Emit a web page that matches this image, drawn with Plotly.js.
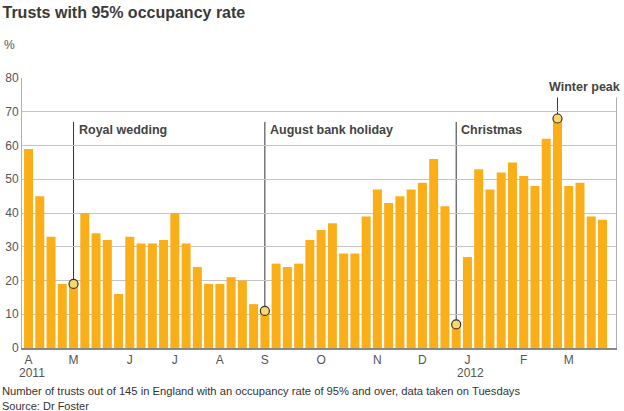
<!DOCTYPE html>
<html>
<head>
<meta charset="utf-8">
<script src="https://cdn.plot.ly/plotly-3.0.1.min.js"></script>
<style>
html,body{margin:0;padding:0;background:#fff;}
#chart{width:624px;height:411px;}
</style>
</head>
<body>
<div id="chart"></div>
<script>
// Weekly values (Tuesdays), April 2011 - March 2012
const values = [59,45,33,19,19,40,34,32,16,33,31,31,32,40,31,24,19,19,21,20,13,11,25,24,25,32,35,37,28,28,39,47,43,45,47,49,56,42,7,27,53,47,52,55,51,48,62,68,48,49,39,38];
const weekIndex = values.map((v, i) => i);

// Month tick labels
const tickPositions = [0,4,9,13,17,21,26,31,35,39,44,48];
const tickLabels = ['A','M','J','J','A','S','O','N','D','J','F','M'];

// Year labels
const yearLabels = ['2011','2012'];
const yearPositions = [0,39];

// Annotated events
const eventLabels = ['Royal wedding','August bank holiday','Christmas','Winter peak'];
const eventIndex = [4,21,38,47];
const eventLineTop = [67,67,67,74.5];

const FONT = '"Liberation Sans", Arial, Helvetica, sans-serif';
const BAR = '#FAAF19';

const traces = [
  {
    type: 'bar',
    x: weekIndex,
    y: values,
    width: 0.8,
    marker: {color: BAR},
    hoverinfo: 'skip'
  },
  {
    type: 'scatter',
    mode: 'markers',
    x: eventIndex,
    y: eventIndex.map(i => values[i]),
    marker: {size: 9, color: '#F7D86C', line: {color: '#3a3222', width: 1.2}},
    hoverinfo: 'skip'
  }
];

const shapes = eventIndex.map((i, k) => ({
  type: 'line', layer: 'below',
  xref: 'x', yref: 'y',
  x0: i, x1: i, y0: values[i], y1: eventLineTop[k],
  line: {color: '#333', width: 1}
}));

const annotations = eventIndex.map((i, k) => {
  const last = k === eventIndex.length - 1;
  return {
    xref: 'x', yref: 'y',
    x: i, y: eventLineTop[k],
    text: '<b>' + eventLabels[k] + '</b>',
    showarrow: false,
    xanchor: last ? 'center' : 'left',
    yanchor: last ? 'bottom' : 'top',
    xshift: last ? 27 : 1,
    yshift: last ? -1 : 3,
    bgcolor: last ? '#ffffff' : 'rgba(0,0,0,0)',
    borderpad: 3,
    font: {family: FONT, size: 12.5, color: '#444'}
  };
});

yearPositions.forEach((p, k) => annotations.push({
  xref: 'x', yref: 'paper', x: p, y: -0.092, xanchor: 'center', yanchor: 'middle',
  xshift: 3, borderpad: 0,
  text: yearLabels[k], showarrow: false, font: {family: FONT, size: 12, color: '#555'}
}));

annotations.push(
  {xref: 'paper', yref: 'paper', x: -0.034, y: 1.122, xanchor: 'left', yanchor: 'middle',
   text: '%', showarrow: false, font: {family: FONT, size: 12, color: '#555'}},
  {xref: 'paper', yref: 'paper', x: -0.036, y: -0.161, xanchor: 'left', yanchor: 'middle',
   borderpad: 0,
   text: 'Number of trusts out of 145 in England with an occupancy rate of 95% and over, data taken on Tuesdays',
   showarrow: false, font: {family: FONT, size: 11.2, color: '#333'}},
  {xref: 'paper', yref: 'paper', x: -0.036, y: -0.213, xanchor: 'left', yanchor: 'middle',
   borderpad: 0,
   text: 'Source: Dr Foster',
   showarrow: false, font: {family: FONT, size: 11, color: '#333'}}
);

const layout = {
  width: 624, height: 411,
  margin: {l: 22, r: 8, t: 78, b: 63},
  paper_bgcolor: '#fff', plot_bgcolor: '#fff',
  showlegend: false,
  title: {
    text: '<b>Trusts with 95% occupancy rate</b>',
    x: 0.004, xanchor: 'left', y: 0.971, yanchor: 'middle',
    font: {family: FONT, size: 16, color: '#3a3a3a'}
  },
  xaxis: {
    range: [-0.58, 52.2],
    tickvals: tickPositions,
    ticktext: tickLabels,
    ticks: '',
    showgrid: false,
    zeroline: false,
    showline: true, linecolor: '#888', linewidth: 2,
    tickfont: {family: FONT, size: 12, color: '#555'},
    fixedrange: true
  },
  yaxis: {
    range: [0, 80],
    dtick: 10,
    ticks: '',
    showgrid: true, gridcolor: '#c4c4c4', gridwidth: 1,
    zeroline: false,
    showline: true, linecolor: '#b0b0b0', linewidth: 1, mirror: true,
    tickfont: {family: FONT, size: 12, color: '#555'},
    fixedrange: true
  },
  bargap: 0.2,
  shapes: shapes,
  annotations: annotations,
  font: {family: FONT}
};

Plotly.newPlot('chart', traces, layout, {displayModeBar: false, staticPlot: true});
</script>
</body>
</html>
